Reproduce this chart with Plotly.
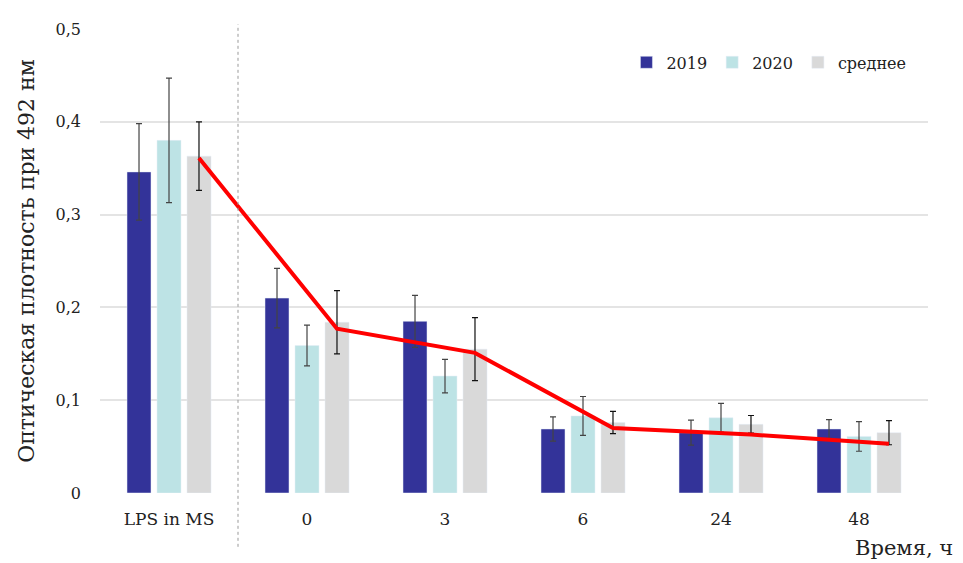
import plotly.graph_objects as go

categories = ["LPS in MS", "0", "3", "6", "24", "48"]
v2019 = [0.346, 0.210, 0.185, 0.069, 0.065, 0.069]
e2019 = [0.052, 0.032, 0.028, 0.013, 0.0135, 0.010]
v2020 = [0.380, 0.159, 0.126, 0.083, 0.081, 0.061]
e2020 = [0.067, 0.022, 0.018, 0.021, 0.0155, 0.016]
vmean = [0.363, 0.184, 0.155, 0.076, 0.074, 0.065]
emean = [0.037, 0.034, 0.034, 0.012, 0.0095, 0.013]
trend = [0.361, 0.177, 0.151, 0.070, 0.063, 0.053]
y_ticks = [0, 0.1, 0.2, 0.3, 0.4, 0.5]
y_ticklabels = ["0", "0,1", "0,2", "0,3", "0,4", "0,5"]

FONT = "DejaVu Serif"
idx = list(range(len(categories)))
slot = 0.217  # slot width of each bar inside a group (axis units)

fig = go.Figure()
err_style = dict(type="data", thickness=1.2, width=3, color="#444444")
fig.add_trace(go.Bar(x=idx, y=v2019, name="2019", marker_color="#333399",
                     error_y=dict(array=e2019, **err_style)))
fig.add_trace(go.Bar(x=idx, y=v2020, name="2020", marker_color="#BDE3E5",
                     error_y=dict(array=e2020, **err_style)))
fig.add_trace(go.Bar(x=idx, y=vmean, name="среднее", marker_color="#D9D9D9",
                     error_y=dict(array=emean, color="#111111", thickness=1.2, width=3)))
fig.add_trace(go.Scatter(x=[i + slot for i in idx], y=trend, mode="lines",
                         line=dict(color="#FF0000", width=4), showlegend=False))

fig.add_shape(type="line", xref="x", yref="paper", x0=0.5, x1=0.5, y0=-0.116, y1=1.01,
              line=dict(color="#999999", width=1, dash="dot"))

fig.update_layout(
    width=963, height=563,
    margin=dict(l=92, r=43, t=12, b=78),
    paper_bgcolor="white", plot_bgcolor="white",
    barmode="group", bargap=0.348, bargroupgap=0.2,
    font=dict(family=FONT, size=15, color="#222222"),
    legend=dict(orientation="h", x=0.98, y=0.928, xanchor="right", yanchor="middle",
                font=dict(family=FONT, size=16, color="#222222"),
                itemwidth=30, traceorder="normal", bgcolor="rgba(0,0,0,0)"),
    xaxis=dict(tickmode="array", tickvals=idx, ticktext=categories, range=[-0.5, 5.5],
               showgrid=False, zeroline=False, showline=False, ticks="",
               ticklabelstandoff=14,
               tickfont=dict(family=FONT, size=17, color="#222222")),
    yaxis=dict(range=[0, 0.5], tickmode="array", tickvals=y_ticks, ticktext=y_ticklabels,
               showgrid=True, gridcolor="#E4E4E4", gridwidth=1.5, zeroline=False,
               showline=False, ticks="", ticklabelstandoff=18,
               tickfont=dict(family=FONT, size=16, color="#222222"),
               title=dict(text="Оптическая плотность при 492 нм",
                          font=dict(family=FONT, size=22, color="#222222"), standoff=14)),
)
fig.add_annotation(text="Время, ч", xref="paper", yref="paper", x=1.033, y=-0.088,
                   xanchor="right", yanchor="top", showarrow=False,
                   font=dict(family=FONT, size=21, color="#222222"))

fig.write_html("out.html")
